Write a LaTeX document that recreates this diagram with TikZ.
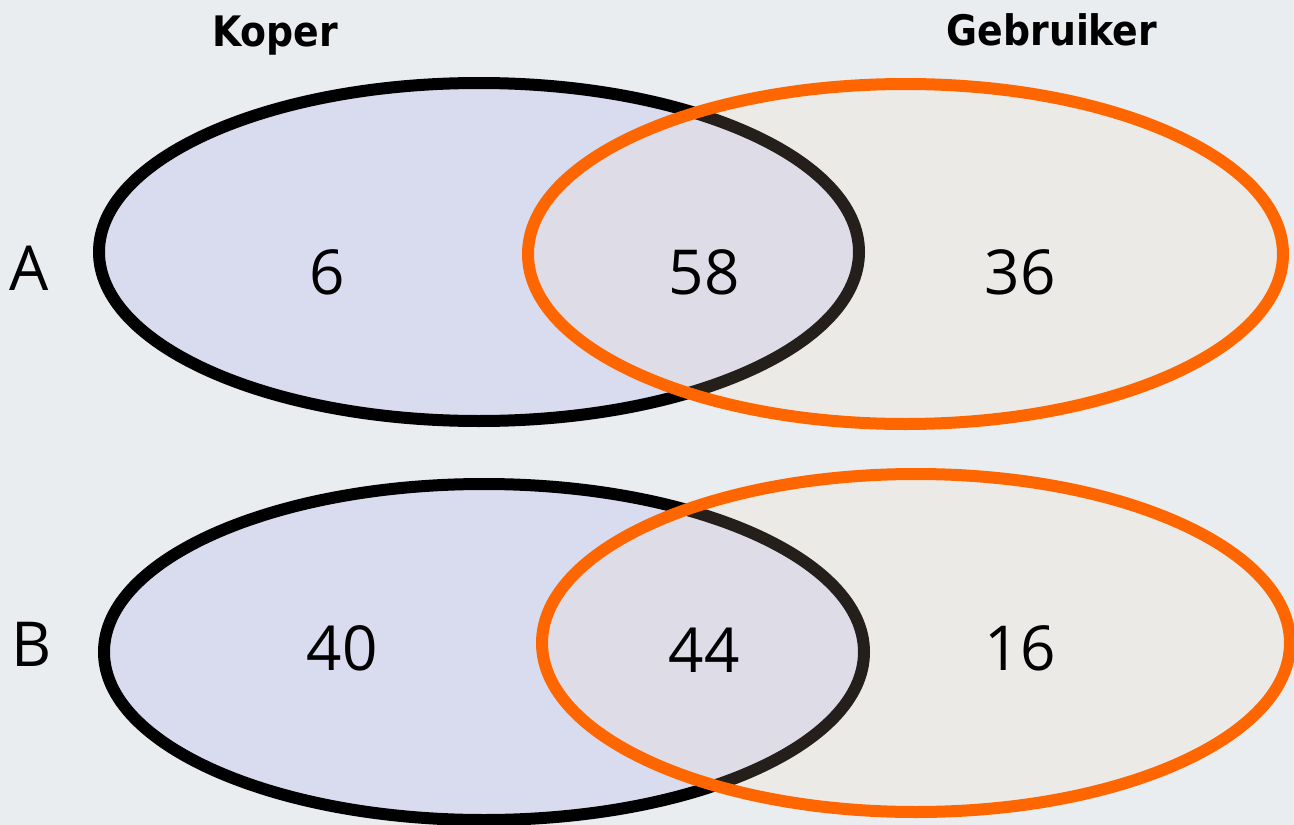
\documentclass[tikz,border=0pt]{standalone}
\usepackage{fontspec}
\setmainfont{Open Sans}
\newfontfamily\headfont{DejaVu Sans Condensed}
\definecolor{bgc}{RGB}{233,237,239}
\definecolor{lav}{RGB}{217,220,238}
\definecolor{orf}{RGB}{255,222,188}
\definecolor{orl}{RGB}{255,102,0}
\begin{document}
\begin{tikzpicture}[x=1bp,y=-1bp,
  koper/.style={draw=black,line width=12bp,fill=lav},
  gebr/.style={draw=orl,line width=12bp,fill=orf,fill opacity=0.14,draw opacity=1},
  head/.style={font=\headfont\bfseries\fontsize{42bp}{45bp}\selectfont,inner sep=0pt},
  num/.style={font=\fontsize{62bp}{66bp}\selectfont,inner sep=0pt},
  rowlab/.style={font=\fontsize{62bp}{66bp}\selectfont,inner sep=0pt}]
\fill[bgc] (0,0) rectangle (1294,825);
\useasboundingbox (0,0) rectangle (1294,825);
% Row A
\draw[koper] (479,252) ellipse [x radius=380,y radius=169];
\draw[gebr] (905.5,254) ellipse [x radius=377.5,y radius=170];
% Row B
\draw[koper] (484,652) ellipse [x radius=380,y radius=168];
\draw[gebr] (916,643) ellipse [x radius=374,y radius=169];
% Headers
\node[head] (koper) at (275,36) {Koper};
\node[head] (gebruiker) at (1052,30) {Gebruiker};
% Row labels
\node[rowlab] (la) at (29,268) {A};
\node[rowlab] (lb) at (32,644) {B};
% Numbers
\node[num] (a1) at (327,272) {6};
\node[num] (a2) at (704,272) {58};
\node[num] (a3) at (1020,272) {36};
\node[num] (b1) at (342,648) {40};
\node[num] (b2) at (704,650) {44};
\node[num] (b3) at (1020,648) {16};
\end{tikzpicture}
\end{document}
